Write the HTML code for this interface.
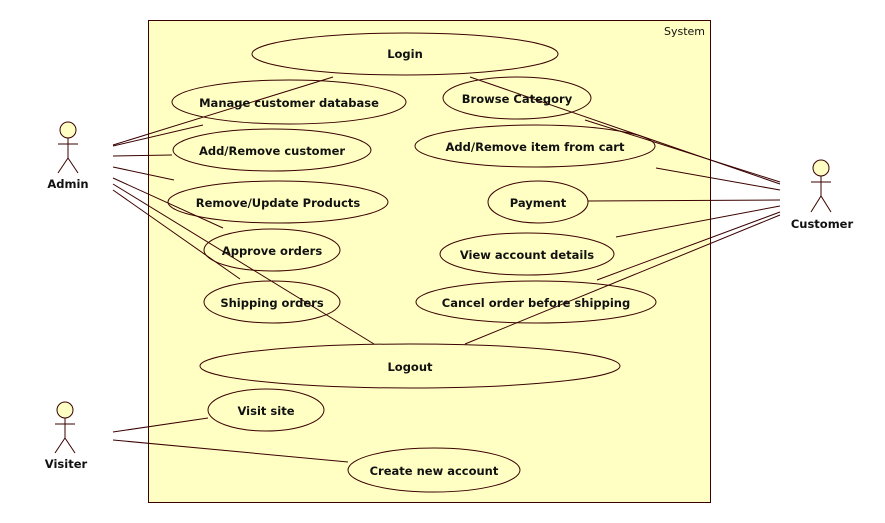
<!DOCTYPE html>
<html><head><style>
html,body{margin:0;padding:0;background:#fff;}
svg{display:block;}
text{font-family:"DejaVu Sans","Liberation Sans",sans-serif;font-size:11.5px;font-weight:bold;fill:#111;}
</style></head><body>
<svg width="885" height="523" viewBox="0 0 885 523" xmlns="http://www.w3.org/2000/svg">
<rect x="148.5" y="20.5" width="562" height="482" fill="#FFFFC4" stroke="#3a0000" stroke-width="1"/>
<text x="705" y="35" text-anchor="end" style="font-weight:normal;font-size:11px">System</text>
<g fill="none" stroke="#3a0000" stroke-width="1">
<ellipse cx="405" cy="54" rx="153" ry="21"/>
<ellipse cx="289" cy="102" rx="117" ry="22"/>
<ellipse cx="517" cy="98" rx="74" ry="21"/>
<ellipse cx="272" cy="150" rx="99" ry="21"/>
<ellipse cx="535" cy="146" rx="120" ry="21"/>
<ellipse cx="278" cy="202" rx="110" ry="21"/>
<ellipse cx="538" cy="202" rx="50" ry="21"/>
<ellipse cx="272" cy="250" rx="68" ry="21"/>
<ellipse cx="527" cy="254" rx="87" ry="21"/>
<ellipse cx="272" cy="302" rx="68" ry="21"/>
<ellipse cx="536" cy="302" rx="120" ry="21"/>
<ellipse cx="410" cy="366" rx="210" ry="22"/>
<ellipse cx="266" cy="410" rx="58" ry="21"/>
<ellipse cx="434" cy="470" rx="86" ry="22"/>
<!-- admin lines -->
<line x1="113" y1="145" x2="333" y2="77"/>
<line x1="113" y1="146" x2="203" y2="125"/>
<line x1="113" y1="156" x2="172" y2="155"/>
<line x1="113" y1="167" x2="174" y2="180"/>
<line x1="113" y1="178" x2="223" y2="228"/>
<line x1="113" y1="190" x2="240" y2="279"/>
<line x1="113" y1="184" x2="374" y2="344"/>
<!-- customer lines -->
<line x1="780" y1="184" x2="470" y2="77"/>
<line x1="780" y1="182" x2="585" y2="120"/>
<line x1="780" y1="190" x2="656" y2="168"/>
<line x1="780" y1="200" x2="588" y2="201"/>
<line x1="780" y1="206" x2="616" y2="237"/>
<line x1="780" y1="212" x2="597" y2="280"/>
<line x1="780" y1="215" x2="465" y2="344"/>
<!-- visiter lines -->
<line x1="113" y1="432" x2="208" y2="418"/>
<line x1="113" y1="440" x2="348" y2="462"/>
</g>
<g fill="#FFFFC4" stroke="#3a0000" stroke-width="1">
<circle cx="68" cy="130" r="8"/>
<circle cx="821" cy="168" r="8"/>
<circle cx="65" cy="410" r="8"/>
</g>
<g stroke="#3a0000" stroke-width="1" fill="none">
<path d="M68 138V158M58 144H78M68 158L58 173M68 158L78 173"/>
<path d="M821 176V196M811 182H831M821 196L811 212M821 196L831 212"/>
<path d="M65 418V438M55 424H75M65 438L55 453M65 438L75 453"/>
</g>
<text x="68" y="188" text-anchor="middle">Admin</text>
<text x="822" y="228" text-anchor="middle">Customer</text>
<text x="66" y="468" text-anchor="middle">Visiter</text>
<g text-anchor="middle">
<text x="405" y="58">Login</text>
<text x="289" y="107">Manage customer database</text>
<text x="517" y="103">Browse Category</text>
<text x="272" y="155">Add/Remove customer</text>
<text x="535" y="151">Add/Remove item from cart</text>
<text x="278" y="207">Remove/Update Products</text>
<text x="538" y="207">Payment</text>
<text x="272" y="255">Approve orders</text>
<text x="527" y="259">View account details</text>
<text x="272" y="307">Shipping orders</text>
<text x="536" y="307">Cancel order before shipping</text>
<text x="410" y="371">Logout</text>
<text x="266" y="415">Visit site</text>
<text x="434" y="475">Create new account</text>
</g>
</svg>
</body></html>
